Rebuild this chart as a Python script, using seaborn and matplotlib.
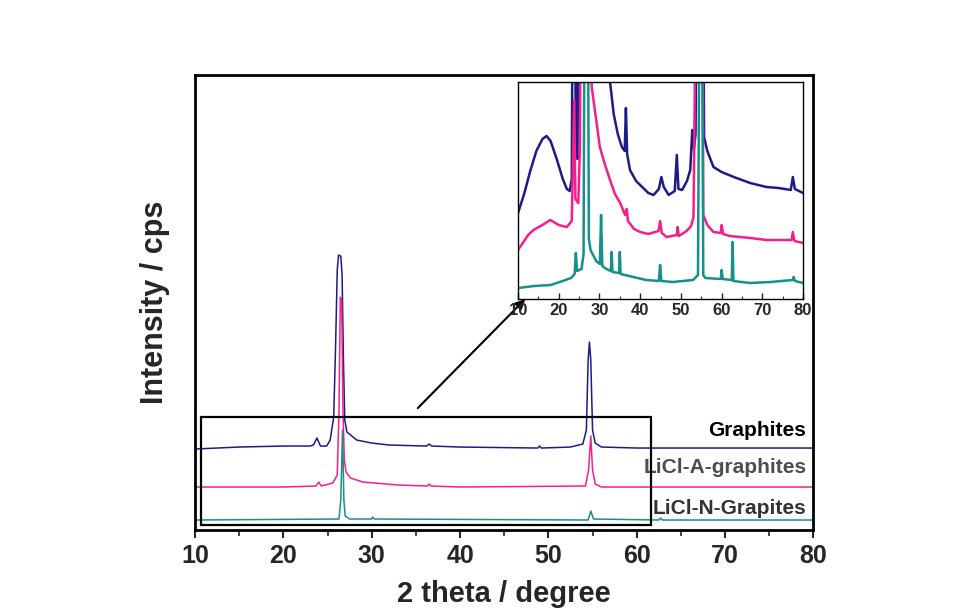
import matplotlib
matplotlib.use("Agg")
import matplotlib.pyplot as plt
import matplotlib.patches as patches
import seaborn as sns

# ==========================================
# Data
# ==========================================

# main panel: 2 theta (deg) and intensity (arbitrary, stacked)
gr_x = [10, 15, 20, 23.0, 23.4, 23.8, 24.2, 24.9, 25.3, 25.7, 25.9, 26.1, 26.25,
        26.5, 26.65, 26.8, 26.95, 27.2, 28.3, 30, 32, 36.2, 36.5, 36.8, 40, 48.8,
        49.0, 49.2, 52.5, 53.9, 54.3, 54.5, 54.65, 54.8, 55.0, 55.3, 56, 60, 80]
gr_y = [81, 83, 84, 84, 85, 92, 84, 84, 90, 113, 180, 260, 275,
        274, 255, 170, 110, 98, 90, 87, 85, 84, 86, 84, 83, 82,
        84, 82, 83, 86, 100, 170, 188, 170, 100, 87, 83, 82, 82]

la_x = [10, 20, 23.7, 24.0, 24.3, 25.6, 26.1, 26.3, 26.45, 26.6, 26.75, 26.9,
        27.1, 27.6, 29, 33, 36.3, 36.5, 36.7, 40, 54.2, 54.55, 54.8, 55.0, 55.3,
        56, 80]
la_y = [43, 43, 44, 48, 44, 47, 55, 120, 233, 230, 120, 70,
        58, 52, 48, 45, 44, 46, 44, 43, 44, 60, 94, 60, 46,
        43, 43]

ln_x = [10, 26.3, 26.5, 26.7, 26.85, 27.0, 27.5, 30.0, 30.1, 30.3, 54.5, 54.8,
        55.1, 62.5, 62.7, 62.9, 80]
ln_y = [10, 11, 30, 100, 30, 14, 11, 11, 13, 11, 10, 19,
        11, 10, 12, 10, 10]

# inset (zoomed intensity)
in_gr_x = [10, 11.5, 13, 14.5, 16, 17, 18, 19.5, 21, 22, 22.7, 23.2, 23.5, 23.9,
           24.2, 24.6, 25.0, 32.4, 32.6, 33.5, 34.5, 35.5, 36.2, 36.5, 36.8, 37.5,
           39, 40.5, 42, 43.3, 44.6, 45.2, 45.8, 47, 48.5, 49.0, 49.4, 50.3, 51.5,
           52.3, 52.8, 53.2, 53.6, 54.0, 55.4, 55.7, 56.5, 58, 60, 63, 67, 71,
           74, 77, 77.5, 78, 80]
in_gr_y = [86, 105, 128, 148, 160, 163, 158, 140, 120, 110, 108, 120, 400, 400,
           150, 140, 400, 400, 217, 185, 165, 152, 148, 191, 145, 129,
           118, 112, 106, 104, 110, 122, 112, 104, 108, 144, 110, 109, 118,
           129, 169, 150, 165, 400, 400, 162, 148, 132, 127, 122, 116, 112,
           111, 109, 122, 110, 106]

in_la_x = [10, 11, 12.5, 13.8, 16, 17.9, 20, 22.0, 23.2, 23.8, 24.1, 24.8, 25.2,
           25.5, 27.7, 28.1, 30.1, 31.3, 32.6, 33.8, 35.1, 36.3, 36.7, 37.0, 38.5,
           40, 42, 44.5, 44.9, 45.3, 46.5, 49.0, 49.2, 49.5, 51.4, 52.5, 53.1,
           53.9, 55.3, 55.5, 56.5, 58, 59.8, 60.0, 60.4, 62, 64.5, 67, 71.1, 74,
           77.2, 77.5, 77.9, 80]
in_la_y = [49, 55, 64, 69, 74, 79, 74, 72, 78, 199, 100, 96, 150,
           400, 400, 212, 152, 135, 119, 105, 96, 84, 90, 78, 70,
           67, 65, 68, 78, 66, 62, 64, 72, 63, 68, 73, 82,
           400, 400, 84, 74, 67, 66, 74, 65, 63, 62, 61, 59, 59,
           59, 67, 58, 56]

in_ln_x = [10, 14, 18, 21, 23, 23.9, 24.2, 24.5, 25.6, 26.1, 26.4, 27.1, 27.4,
           27.8, 29.2, 30.1, 30.4, 30.7, 31.7, 32.8, 33.0, 33.2, 34.8, 35.0, 35.2,
           38.3, 41.5, 44.6, 44.9, 45.2, 48, 53, 54.2, 54.7, 55.1, 55.5, 56, 59.8,
           60.0, 60.3, 62.5, 62.7, 62.9, 67, 72, 77.5, 77.7, 78, 80]
in_ln_y = [11, 13, 14, 18, 21, 25, 46, 28, 30, 45, 400, 400, 60,
           49, 38, 35, 84, 33, 30, 28, 47, 27, 26, 47, 25,
           22, 19, 18, 34, 18, 17, 19, 24, 400, 400, 24, 21, 20,
           29, 20, 19, 57, 18, 16, 17, 19, 22, 18, 16]

labels = ["Graphites", "LiCl-A-graphites", "LiCl-N-Grapites"]
label_y = [100, 63, 22]
x_ticks = [10, 20, 30, 40, 50, 60, 70, 80]

# ==========================================
# Plot
# ==========================================
sns.set_style("ticks")
plt.rcParams['font.family'] = ['Liberation Sans', 'DejaVu Sans']
plt.rcParams['font.weight'] = 'bold'

navy = '#1c1c88'
pink = '#f51f8c'
teal = '#15908a'

fig = plt.figure(figsize=(9.8, 6.16), dpi=100)
ax = fig.add_axes([0.199, 0.1396, 0.631, 0.7384])

for xs, ys, c in [(gr_x, gr_y, navy), (la_x, la_y, pink), (ln_x, ln_y, teal)]:
    sns.lineplot(x=xs, y=ys, ax=ax, color=c, lw=1.1, estimator=None, sort=False)

ax.set_xlim(10, 80)
ax.set_ylim(0, 455)
ax.set_xticks(x_ticks)
ax.set_xticks([15, 25, 35, 45, 55, 65, 75], minor=True)
ax.set_yticks([])
ax.tick_params(axis='x', which='major', direction='out', length=6, width=1.5,
               labelsize=18, pad=4)
ax.tick_params(axis='x', which='minor', direction='out', length=4, width=1.2)
for s in ax.spines.values():
    s.set_linewidth(2)
    s.set_color('black')
ax.set_xlabel('2 theta / degree', fontsize=21, fontweight='bold', labelpad=9)
ax.set_ylabel('Intensity / cps', fontsize=22, fontweight='bold', labelpad=18)

label_colors = ['black', '#4d4d4d', '#333333']
for t, yv, c in zip(labels, label_y, label_colors):
    ax.text(79.2, yv, t, ha='right', va='center', fontsize=15,
            fontweight='bold', color=c)

# zoom box and arrow
ax.add_patch(patches.Rectangle((10.7, 5), 50.9, 108, fill=False,
                               edgecolor='black', lw=1.6, zorder=5))
ax.annotate('', xy=(47.6, 233), xytext=(35.0, 120),
            arrowprops=dict(arrowstyle='-|>', color='black', lw=1.5,
                            mutation_scale=14))

# inset
ins = fig.add_axes([0.5286, 0.5146, 0.2908, 0.3523])
for xs, ys, c in [(in_gr_x, in_gr_y, navy), (in_la_x, in_la_y, pink),
                  (in_ln_x, in_ln_y, teal)]:
    sns.lineplot(x=xs, y=ys, ax=ins, color=c, lw=1.8, estimator=None, sort=False)
ins.set_xlim(10, 80)
ins.set_ylim(0, 217)
ins.set_xticks(x_ticks)
ins.set_xticks([15, 25, 35, 45, 55, 65, 75], minor=True)
ins.set_yticks([])
ins.tick_params(axis='x', which='major', direction='in', length=4, width=1,
                labelsize=12, pad=3)
ins.tick_params(axis='x', which='minor', direction='in', length=2.5, width=0.8)
for s in ins.spines.values():
    s.set_linewidth(1)
    s.set_color('black')

fig.savefig('out.png', dpi=100)
